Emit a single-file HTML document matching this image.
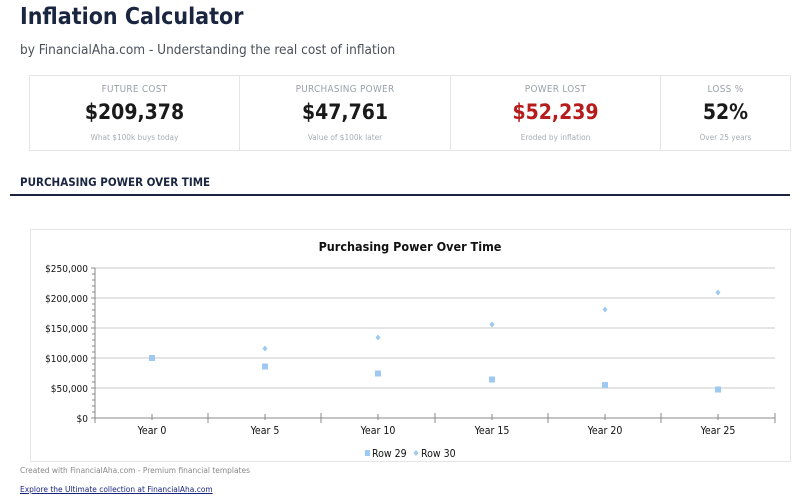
<!DOCTYPE html>
<html><head><style>
body{margin:0;background:#fff;font-family:"DejaVu Sans","Liberation Sans",sans-serif;font-stretch:condensed;width:800px;height:502px;overflow:hidden;position:relative}
.a{position:absolute;white-space:nowrap}
.card{position:absolute;top:75px;height:76px;border:1px solid #e3e5e8;box-sizing:border-box;text-align:center}
.l{font-size:9.9px;color:#9aa0a8;margin-top:8px;letter-spacing:.3px}
.v{font-size:21px;font-weight:bold;color:#1a1a1a;margin-top:5px}
.s{font-size:8.2px;color:#a8adb3;margin-top:8px}
svg text{font-stretch:condensed}
</style></head><body>
<div class="a" style="left:20px;top:4px;font-size:23px;font-weight:bold;color:#1a2540">Inflation Calculator</div>
<div class="a" style="left:20px;top:42px;font-size:13.5px;color:#4a4f57">by FinancialAha.com - Understanding the real cost of inflation</div>
<div class="card" style="left:29px;width:211px"><div class="l">FUTURE COST</div><div class="v">$209,378</div><div class="s">What $100k buys today</div></div>
<div class="card" style="left:239px;width:212px"><div class="l">PURCHASING POWER</div><div class="v">$47,761</div><div class="s">Value of $100k later</div></div>
<div class="card" style="left:450px;width:211px"><div class="l">POWER LOST</div><div class="v" style="color:#b71c1c">$52,239</div><div class="s">Eroded by inflation</div></div>
<div class="card" style="left:660px;width:131px"><div class="l">LOSS %</div><div class="v">52%</div><div class="s">Over 25 years</div></div>
<div class="a" style="left:20px;top:175px;font-size:11.5px;font-weight:bold;color:#1a2540">PURCHASING POWER OVER TIME</div>
<div class="a" style="left:10px;top:194px;width:780px;height:2px;background:#1a2540"></div>
<svg class="a" style="left:0;top:0" width="800" height="502" font-family="DejaVu Sans,sans-serif">
<rect x="30.5" y="229.5" width="760" height="232" fill="#fff" stroke="#e3e5e8"/>
<text x="410" y="251" font-size="12.5" font-weight="bold" text-anchor="middle" fill="#111">Purchasing Power Over Time</text>
<g stroke="#c8c8c8"><line x1="95" y1="268" x2="775" y2="268"/><line x1="95" y1="298" x2="775" y2="298"/><line x1="95" y1="328" x2="775" y2="328"/><line x1="95" y1="358" x2="775" y2="358"/><line x1="95" y1="388" x2="775" y2="388"/></g>
<g stroke="#888"><line x1="95" y1="418" x2="775" y2="418"/><line x1="95" y1="268" x2="95" y2="418"/>
<path d="M92 274h3M92 280h3M92 286h3M92 292h3M92 304h3M92 310h3M92 316h3M92 322h3M92 334h3M92 340h3M92 346h3M92 352h3M92 364h3M92 370h3M92 376h3M92 382h3M92 394h3M92 400h3M92 406h3M92 412h3M91 268h4M91 298h4M91 328h4M91 358h4M91 388h4M91 418h4"/>
<line x1="95" y1="413" x2="95" y2="423"/><line x1="208" y1="413" x2="208" y2="423"/><line x1="321" y1="413" x2="321" y2="423"/><line x1="435" y1="413" x2="435" y2="423"/><line x1="548" y1="413" x2="548" y2="423"/><line x1="661" y1="413" x2="661" y2="423"/><line x1="775" y1="413" x2="775" y2="423"/>
<line x1="152" y1="414" x2="152" y2="420"/><line x1="265" y1="414" x2="265" y2="420"/><line x1="378" y1="414" x2="378" y2="420"/><line x1="492" y1="414" x2="492" y2="420"/><line x1="605" y1="414" x2="605" y2="420"/><line x1="718" y1="414" x2="718" y2="420"/>
</g>
<g font-size="10" fill="#111" text-anchor="end"><text x="88" y="272">$250,000</text><text x="88" y="302">$200,000</text><text x="88" y="332">$150,000</text><text x="88" y="362">$100,000</text><text x="88" y="392">$50,000</text><text x="88" y="422">$0</text></g>
<g font-size="10.5" fill="#111" text-anchor="middle"><text x="152" y="434">Year 0</text><text x="265" y="434">Year 5</text><text x="378" y="434">Year 10</text><text x="492" y="434">Year 15</text><text x="605" y="434">Year 20</text><text x="718" y="434">Year 25</text></g>
<g fill="#9ec9f0"><rect x="149" y="355" width="6" height="6"/><rect x="262" y="363.5" width="6" height="6"/><rect x="375" y="370.5" width="6" height="6"/><rect x="489" y="376.5" width="6" height="6"/><rect x="602" y="382" width="6" height="6"/><rect x="715" y="386.5" width="6" height="6"/>
<path d="M265 345.5l2.5 3-2.5 3-2.5-3z M378 334.5l2.5 3-2.5 3-2.5-3z M492 321.5l2.5 3-2.5 3-2.5-3z M605 306.5l2.5 3-2.5 3-2.5-3z M718 289.5l2.5 3-2.5 3-2.5-3z"/>
<rect x="365" y="450" width="5" height="6"/><path d="M416 450l2.5 3-2.5 3-2.5-3z"/></g>
<text x="372" y="457" font-size="10.5" fill="#111">Row 29</text><text x="421" y="457" font-size="10.5" fill="#111">Row 30</text>
</svg>
<div class="a" style="left:20px;top:465px;font-size:8.3px;color:#888">Created with FinancialAha.com - Premium financial templates</div>
<div class="a" style="left:20px;top:484px;font-size:8.3px;color:#1a237e;text-decoration:underline">Explore the Ultimate collection at FinancialAha.com</div>
</body></html>
